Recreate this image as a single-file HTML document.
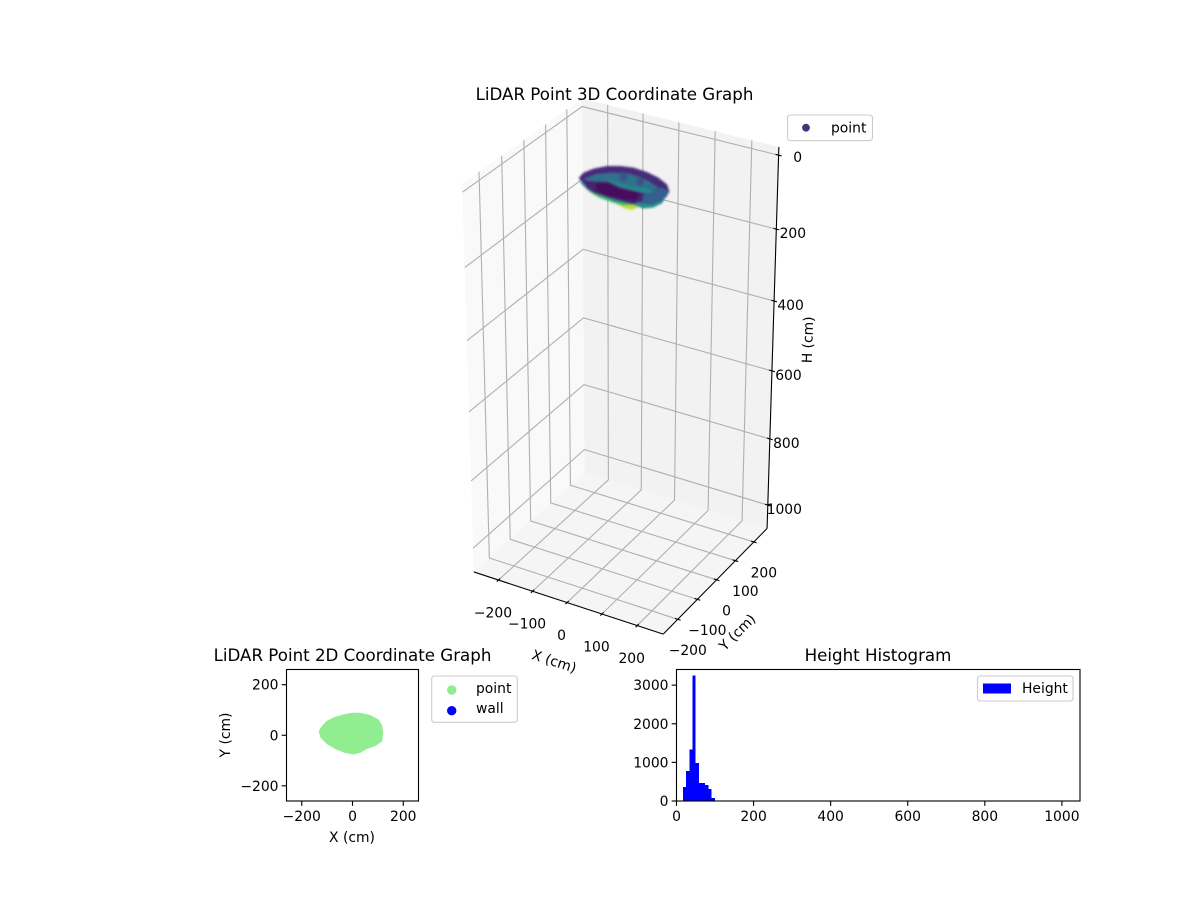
<!DOCTYPE html>
<html lang="en">
<head>
<meta charset="utf-8">
<title>LiDAR Point Graphs</title>
<style>
html,body{margin:0;padding:0;background:#fff;width:1200px;height:900px;overflow:hidden}
svg{display:block}
text{font-family:"DejaVu Sans","Liberation Sans",sans-serif;fill:#000;font-size:13.89px}
.title{font-size:16.67px}
</style>
</head>
<body>
<svg id="fig" xmlns="http://www.w3.org/2000/svg" width="1200" height="900" viewBox="0 0 1200 900">
<defs><filter id="soft" x="-10%" y="-10%" width="120%" height="120%"><feGaussianBlur stdDeviation="1.1"/></filter></defs>
</svg>
<script>
// ---------- shared tick data ----------
const xTicks3d = [-200, -100, 0, 100, 200];
const yTicks3d = [-200, -100, 0, 100, 200];
const zTicks3d = [0, 200, 400, 600, 800, 1000];
const ticks2d = [-200, 0, 200];
const histXTicks = [0, 200, 400, 600, 800, 1000];
const histYTicks = [0, 1000, 2000, 3000];

// ---------- 3D surface, sampled outlines [x, y] at a height ----------
const cloudLayerHeights = [92, 76, 60, 30, 50, 44, 58, 40, 40, 27, 22];
const cloudYellowTip = [[-33.6,23],[-16.7,32.8],[18.6,42.7],[28,21.3],[22,5.3],[4.8,3.5],[-18,11.4]];
const cloudGreenEdge = [[-111.6,24.5],[-71,16.9],[-26.9,11.3],[19.4,17.5],[36.9,10.8],[9.7,-13.1],[-13.4,-12.2],[-57.6,-6.5],[-95.5,8.9]];
const cloudTealEdge = [[-122.8,12.3],[-89,0.8],[-30.3,-6.5],[23.9,-6.1],[55.7,1.7],[78.6,56.9],[82.4,69.1],[97.9,15.7],[91.4,-13.1],[73.7,-29.7],[44.2,-25.6],[-2.1,-31.9],[-49,-21.5],[-85.5,-13.4]];
const cloudRim = [[-106.7,-20.8],[-111.3,7.8],[-101.7,38.4],[-81.3,66.5],[-54.1,82.3],[-22.6,90.6],[16.6,85.9],[55.3,73.4],[90.6,52],[112.7,23],[116.8,-9.6],[108.1,-42.1],[78.3,-53.3],[40.3,-50.3],[-7.2,-46.8],[-56.7,-39.9],[-84.4,-39.1]];
const cloudInnerSlope = [[-112.1,17.3],[-99.8,51.3],[-69.4,77.2],[-31.8,90.9],[18.5,82.6],[57,63.1],[77.1,43.7],[43,23.8],[-8.9,35.5],[-54.6,35.7],[-83.6,23.2],[-99.5,3.4]];
const cloudLowerRight = [[38.8,7.6],[52.7,30.7],[71.2,54],[93.4,49.9],[105.6,25.8],[105.4,-5.6],[93.9,-32.9],[69.2,-37.3],[47.5,-18.7]];
const cloudInnerStrip = [[-69.6,53.9],[-35,49],[1.4,48.9],[33,57.3],[52.9,53.9],[38.7,39.4],[8.4,36.7],[-27.7,36.4],[-64.2,44.5]];
const cloudBumpA = [[-42.3,77.4],[-20.6,58.8],[-15.3,30.6],[-37,49.2]];
const cloudBumpB = [[3.7,76.5],[25.4,57.9],[30.7,29.7],[9,48.3]];
const cloudBand = [[-88.4,-32.1],[-60.8,-24.7],[-33.6,-8.9],[4.6,-19.9],[40.7,-19.5],[67.5,-18.9],[84.7,-56.4],[74.8,-79.1],[43.9,-80.2],[2.4,-79.3],[-31.2,-76.3],[-63.4,-59.4]];
const cloudCore = [[-47.1,-40.5],[-23.4,-26.7],[12.4,-41.6],[52.7,-32.4],[66.5,-40.7],[73.1,-68.1],[41.7,-76.5],[-3.3,-77.5],[-32,-66.8]];
const cloudLayers = [cloudYellowTip, cloudGreenEdge, cloudTealEdge, cloudRim, cloudInnerSlope, cloudLowerRight, cloudInnerStrip, cloudBumpA, cloudBumpB, cloudBand, cloudCore];
const viridisStops = [[68,1,84],[72,36,117],[65,68,135],[53,95,141],[42,120,142],[33,145,140],[34,168,132],[68,191,112],[122,209,81],[189,223,38],[253,231,37]];
const heightMin = 20;
const heightMax = 100;

// ---------- 2D footprint outline ----------
const footprintX = [-131,-121,-102,-69,-36,-3,30,69,102,115,119,115,89,56,30,3,-30,-69,-102,-124];
const footprintY = [14,34,54,71,80,87,87,78,60,38,8,-23,-41,-52,-68,-74,-68,-52,-32,-8];

// ---------- histogram ----------
const histCounts = [360,772,1339,3245,978,463,463,412,309,77];
const histFirstEdge = 16.5;
const histBinWidth = 8.3;

const NS = 'http://www.w3.org/2000/svg';
const fig = document.getElementById('fig');
function mk(tag, attrs, txt) {
  const el = document.createElementNS(NS, tag);
  for (const k in attrs) el.setAttribute(k, attrs[k]);
  if (txt !== undefined) el.textContent = txt;
  fig.appendChild(el);
  return el;
}
function fmt(v) { return v < 0 ? '\u2212' + Math.abs(v) : String(v); }

// ---------- 3D projection fitted to the box geometry ----------
const XL = 273, ZT = -22, ZB = 1072;
const cornerFit = [
  [-XL,-XL,ZB,474,572],[XL,-XL,ZB,662.7,634.3],[XL,XL,ZB,766,528.3],[-XL,XL,ZB,585,472.7],
  [XL,XL,ZT,778.3,147.5],[-XL,XL,ZT,581.5,99],[-XL,-XL,ZT,462.5,184],
  [XL,XL,0,778,155],[XL,XL,200,777,229.5],[XL,XL,400,775.3,300.7],[XL,XL,600,773,370],[XL,XL,800,770,439.5],[XL,XL,1000,767.5,505],
  [-XL,XL,0,581.7,106],[-XL,-XL,0,462.5,191.7]
];
function norm3(x,y,z){ return [x/XL, y/XL, (z-525)/547]; }
function solveProjection() {
  const rows = [], rhs = [];
  cornerFit.forEach(c => {
    const [X,Y,Z] = norm3(c[0],c[1],c[2]);
    rows.push([X,Y,Z,1,0,0,0,0,-c[3]*X,-c[3]*Y,-c[3]*Z]); rhs.push(c[3]);
    rows.push([0,0,0,0,X,Y,Z,1,-c[4]*X,-c[4]*Y,-c[4]*Z]); rhs.push(c[4]);
  });
  const n = 11, A = [];
  for (let i=0;i<n;i++){ A.push(new Array(n+1).fill(0));
    for (let j=0;j<n;j++) rows.forEach(r => { A[i][j] += r[i]*r[j]; });
    rows.forEach((r,k) => { A[i][n] += r[i]*rhs[k]; });
  }
  for (let i=0;i<n;i++){
    let p=i; for(let r=i+1;r<n;r++) if(Math.abs(A[r][i])>Math.abs(A[p][i])) p=r;
    [A[i],A[p]]=[A[p],A[i]];
    for(let r=0;r<n;r++){ if(r===i) continue; const f=A[r][i]/A[i][i];
      for(let c=i;c<=n;c++) A[r][c]-=f*A[i][c]; }
  }
  return A.map((r,i)=>r[n]/r[i]);
}
const P = solveProjection();
function proj(x,y,z){
  const [X,Y,Z]=norm3(x,y,z);
  const w=P[8]*X+P[9]*Y+P[10]*Z+1;
  return [(P[0]*X+P[1]*Y+P[2]*Z+P[3])/w,(P[4]*X+P[5]*Y+P[6]*Z+P[7])/w];
}
function poly3(pts){ return pts.map(p=>proj(p[0],p[1],p[2]).map(v=>v.toFixed(2)).join(',')).join(' '); }

// panes
const paneLeft = mk('polygon',{points:poly3([[-XL,-XL,ZT],[-XL,XL,ZT],[-XL,XL,ZB],[-XL,-XL,ZB]]),fill:'#f9f9f9'});


const paneBack = mk('polygon',{points:poly3([[-XL,XL,ZT],[XL,XL,ZT],[XL,XL,ZB],[-XL,XL,ZB]]),fill:'#f2f2f2'});


const paneFloor = mk('polygon',{points:poly3([[-XL,-XL,ZB],[XL,-XL,ZB],[XL,XL,ZB],[-XL,XL,ZB]]),fill:'#f5f5f5'});



// grid
function gridPath(pts, name){
  const el = mk('polyline',{points:poly3(pts),fill:'none',stroke:'#b0b0b0','stroke-width':1.11});
  
  
}
xTicks3d.forEach(v => gridPath([[v,-XL,ZB],[v,XL,ZB],[v,XL,ZT]],'x-gridline'));
yTicks3d.forEach(v => gridPath([[XL,v,ZB],[-XL,v,ZB],[-XL,v,ZT]],'y-gridline'));
zTicks3d.forEach(v => gridPath([[-XL,-XL,v],[-XL,XL,v],[XL,XL,v]],'z-gridline'));

// axis lines
function axis3(a,b,name){
  const p=proj(a[0],a[1],a[2]), q=proj(b[0],b[1],b[2]);
  const el = mk('line',{x1:p[0],y1:p[1],x2:q[0],y2:q[1],stroke:'#000','stroke-width':1.11});
  
  
}
axis3([-XL,-XL,ZB],[XL,-XL,ZB],'x-axis-line');
axis3([XL,-XL,ZB],[XL,XL,ZB],'y-axis-line');
axis3([XL,XL,ZB],[XL,XL,ZT],'z-axis-line');

xTicks3d.forEach(v => {
  axis3([v,-XL+8,ZB],[v,-XL-8,ZB],'x-tick');
  const p=proj(v,-XL,ZB);
  const t = mk('text',{x:p[0]-5.5,y:p[1]+37.5,'text-anchor':'middle'},fmt(v));
  
  
});
yTicks3d.forEach(v => {
  axis3([XL-8,v,ZB],[XL+8,v,ZB],'y-tick');
  const p=proj(XL,v,ZB);
  const t = mk('text',{x:p[0]+10,y:p[1]+35.5,'text-anchor':'middle'},fmt(v));
  
  
});
zTicks3d.forEach(v => {
  axis3([XL-8,XL,v],[XL+8,XL,v],'z-tick');
  const p=proj(XL,XL,v);
  const t = mk('text',{x:p[0]+(v===0?19:16.5),y:p[1]+(v===0?7:9),'text-anchor':'middle'},fmt(v));
  
  
});

// point cloud
function viridis(h){
  const t=Math.max(0,Math.min(1,(h-heightMin)/(heightMax-heightMin)))*(viridisStops.length-1);
  const i=Math.min(Math.floor(t),viridisStops.length-2), f=t-i;
  const a=viridisStops[i], b=viridisStops[i+1];
  return 'rgb('+[0,1,2].map(k=>Math.round(a[k]+(b[k]-a[k])*f)).join(',')+')';
}
const cloudGroup = mk('g',{filter:'url(#soft)'});


cloudLayers.forEach((outline,i) => {
  const h=cloudLayerHeights[i], c=viridis(h);
  const el = mk('polygon',{points:poly3(outline.map(p=>[p[0],p[1],h])),fill:c,stroke:c,'stroke-width':1,'stroke-linejoin':'round'});
  cloudGroup.appendChild(el);
  
  
});

function label(x,y,str,name,extra){
  const el = mk('text',Object.assign({x:x,y:y},extra||{}),str);
  
  
  return el;
}
label(614.5,100,'LiDAR Point 3D Coordinate Graph','chart-3d-title',{'text-anchor':'middle',class:'title'});
label(554,666,'X (cm)','x-axis-title-3d',{'text-anchor':'middle',transform:'rotate(18 554 661.7)'});
label(737.3,637,'Y (cm)','y-axis-title-3d',{'text-anchor':'middle',transform:'rotate(-45 737.3 632.3)'});
label(812.5,340,'H (cm)','z-axis-title-3d',{'text-anchor':'middle',transform:'rotate(-88 812.5 340)'});

function legendBox(x,y,w,h,name){
  const el = mk('rect',{x:x,y:y,width:w,height:h,rx:2.8,fill:'#fff','fill-opacity':0.8,stroke:'#ccc','stroke-width':1.11});
  
  
}
function legendDot(x,y,r,c,name){
  const el = mk('circle',{cx:x,cy:y,r:r,fill:c});
  
  
}
legendBox(787.5,115,85,25.6,'legend-3d');
legendDot(806,127.7,3.9,'#46327e','legend-3d-point-marker');
label(831,132.5,'point','legend-3d-point-label');

// ---------- 2D scatter ----------
const ax2 = {l:286.5,r:418.5,t:669.5,b:801};
const lim2 = 260;
function sx2(v){ return (ax2.l+ax2.r)/2 + v*(ax2.r-ax2.l)/(2*lim2); }
function sy2(v){ return (ax2.t+ax2.b)/2 - v*(ax2.b-ax2.t)/(2*lim2); }
const foot = mk('polygon',{points:footprintX.map((x,i)=>sx2(x).toFixed(1)+','+sy2(footprintY[i]).toFixed(1)).join(' '),fill:'#90ee90',stroke:'#90ee90','stroke-width':1,'stroke-linejoin':'round'});


function frame(a,name){
  const el = mk('rect',{x:a.l,y:a.t,width:a.r-a.l,height:a.b-a.t,fill:'none',stroke:'#000','stroke-width':1.11});
  
  
}
function tickLine(x1,y1,x2,y2,name){
  const el = mk('line',{x1:x1,y1:y1,x2:x2,y2:y2,stroke:'#000','stroke-width':1.11});
  
  
}
frame(ax2,'scatter-2d-frame');
ticks2d.forEach(v => {
  tickLine(sx2(v),ax2.b,sx2(v),ax2.b+4.86,'x-tick-2d');
  label(sx2(v),ax2.b+20,fmt(v),'x-tick-label-2d',{'text-anchor':'middle'});
  tickLine(ax2.l,sy2(v),ax2.l-4.86,sy2(v),'y-tick-2d');
  label(ax2.l-8,sy2(v)+5,fmt(v),'y-tick-label-2d',{'text-anchor':'end'});
});
label(352.5,661,'LiDAR Point 2D Coordinate Graph','chart-2d-title',{'text-anchor':'middle',class:'title'});
label(352,842,'X (cm)','x-axis-title-2d',{'text-anchor':'middle'});
label(230,735,'Y (cm)','y-axis-title-2d',{'text-anchor':'middle',transform:'rotate(-90 230 735)'});
legendBox(431.7,676,85.6,46.3,'legend-2d');
legendDot(451.7,690,4.7,'#90ee90','legend-2d-point-marker');
legendDot(451.7,710.7,4.7,'#0000ff','legend-2d-wall-marker');
label(476,693,'point','legend-2d-point-label');
label(476,713,'wall','legend-2d-wall-label');

// ---------- histogram ----------
const ax3 = {l:676.5,r:1080,t:669.5,b:801};
const histXMax = 1047, histYMax = 3405;
function sx3(v){ return ax3.l + v/histXMax*(ax3.r-ax3.l); }
function sy3(v){ return ax3.b - v/histYMax*(ax3.b-ax3.t); }
histCounts.forEach((c,i) => {
  const x0=histFirstEdge+i*histBinWidth;
  const el = mk('rect',{x:sx3(x0),y:sy3(c),width:sx3(x0+histBinWidth)-sx3(x0),height:ax3.b-sy3(c),fill:'#0000ff','shape-rendering':'crispEdges'});
  
  
});
frame(ax3,'histogram-frame');
histXTicks.forEach(v => {
  tickLine(sx3(v),ax3.b,sx3(v),ax3.b+4.86,'hist-x-tick');
  label(sx3(v),ax3.b+20,String(v),'hist-x-tick-label',{'text-anchor':'middle'});
});
histYTicks.forEach(v => {
  tickLine(ax3.l,sy3(v),ax3.l-4.86,sy3(v),'hist-y-tick');
  label(ax3.l-8,sy3(v)+5,String(v),'hist-y-tick-label',{'text-anchor':'end'});
});
label(878,661,'Height Histogram','histogram-title',{'text-anchor':'middle',class:'title'});
legendBox(977.5,676,95.5,25,'legend-histogram');
const histPatch = mk('rect',{x:983,y:683.5,width:28,height:10,fill:'#0000ff'});


label(1022,693,'Height','legend-height-label');
</script>
</body>
</html>
